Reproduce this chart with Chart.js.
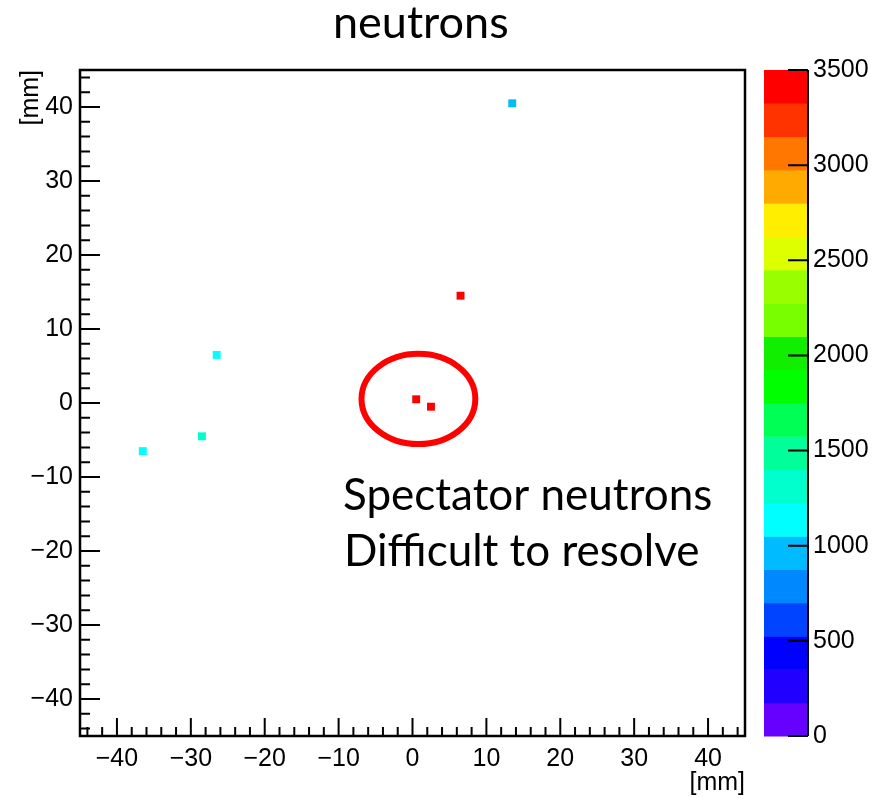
<!DOCTYPE html>
<html>
<head>
<meta charset="utf-8">
<script src="https://cdn.jsdelivr.net/npm/chart.js@4.4.1/dist/chart.umd.min.js"></script>
<style>
    html, body { margin: 0; padding: 0; background: #fff; }
    #wrap { width: 890px; height: 798px; position: relative; }
</style>
</head>
<body>
<div id="wrap"><canvas id="neutron-map"></canvas></div>
<script>
// hit bins (bin centres in mm) and their counts
var hitX = [13.5, 6.5, 0.5, 2.5, -26.5, -28.5, -36.5];
var hitY = [40.5, 14.5, 0.5, -0.5, 6.5, -4.5, -6.5];
var hitCounts = [1000, 3400, 3400, 3400, 1100, 1300, 1100];

// axis labels
var axisTicks = [-40, -30, -20, -10, 0, 10, 20, 30, 40];
var zTicks = [0, 500, 1000, 1500, 2000, 2500, 3000, 3500];
var zMax = 3500;

// rainbow palette, 20 levels from low to high
var palette = [
    "#6600ff", "#2200ff", "#0000ff", "#0044ff", "#0088ff",
    "#00bbff", "#00ffff", "#00ffcc", "#00ff99", "#00ff55",
    "#00ff00", "#11ee00", "#77ff00", "#99ff00", "#ddff00",
    "#ffee00", "#ffaa00", "#ff7700", "#ff3300", "#ff0000"
];

var tickFont = { family: "'Liberation Sans', Arial, sans-serif", size: 25 };
var textFont = "Lato, 'Open Sans', sans-serif";

function levelColor(v) {
    var k = Math.floor(v / (zMax / palette.length));
    return palette[Math.max(0, Math.min(palette.length - 1, k))];
}

function minusLabel(v) {
    return v < 0 ? "\u2212" + Math.abs(v) : String(v);
}

// fixed scale sizes, no automatic padding for the end labels
function fixSize(w, h) {
    return function (scale) {
        if (w) scale.width = w;
        if (h) scale.height = h;
        scale.paddingTop = 0;
        scale.paddingBottom = 0;
        scale.paddingLeft = 0;
        scale.paddingRight = 0;
    };
}

var points = hitX.map(function (x, i) {
    return { x: x, y: hitY[i] };
});

// draws the ROOT-like frame, inward ticks, colour bar and the notes
var rootFrame = {
    id: "rootFrame",
    afterDraw: function (chart) {
        var c = chart.ctx;
        var a = chart.chartArea;
        var xs = chart.scales.x, ys = chart.scales.y, zs = chart.scales.z;
        c.save();

        // colour bar
        var barL = a.right + 19, barW = 44;
        var step = zMax / palette.length;
        for (var k = 0; k < palette.length; k++) {
            var top = zs.getPixelForValue((k + 1) * step);
            var bot = zs.getPixelForValue(k * step);
            c.fillStyle = palette[k];
            c.fillRect(barL, top, barW, bot - top + 0.5);
        }
        c.strokeStyle = "#000";
        c.lineWidth = 2;
        c.beginPath();
        c.moveTo(barL + barW, zs.top);
        c.lineTo(barL + barW, zs.bottom);
        zTicks.forEach(function (v) {
            var p = zs.getPixelForValue(v);
            c.moveTo(barL + barW - 20, p);
            c.lineTo(barL + barW, p);
        });
        c.stroke();

        // frame
        c.lineWidth = 2.5;
        c.strokeRect(a.left, a.top, a.right - a.left, a.bottom - a.top);

        // inward ticks, minor every 2 mm
        c.lineWidth = 2;
        c.beginPath();
        for (var v = -44; v <= 44; v += 2) {
            var major = v % 10 === 0;
            var px = xs.getPixelForValue(v);
            c.moveTo(px, a.bottom);
            c.lineTo(px, a.bottom - (major ? 18 : 9));
            var py = ys.getPixelForValue(v);
            c.moveTo(a.left, py);
            c.lineTo(a.left + (major ? 20 : 10), py);
        }
        c.stroke();

        // axis units
        c.fillStyle = "#000";
        c.font = "25px " + tickFont.family;
        c.textAlign = "right";
        c.textBaseline = "alphabetic";
        c.fillText("[mm]", a.right, 790);
        c.save();
        c.translate(38, a.top);
        c.rotate(-Math.PI / 2);
        c.fillText("[mm]", 0, 0);
        c.restore();

        // circle round the spectator neutrons
        var cx = xs.getPixelForValue(0.8), cy = ys.getPixelForValue(0.55);
        var rx = xs.getPixelForValue(0.8 + 7.7) - cx;
        var ry = cy - ys.getPixelForValue(0.55 + 6.1);
        c.strokeStyle = "#ff0000";
        c.lineWidth = 6;
        c.beginPath();
        c.ellipse(cx, cy, rx, ry, 0, 0, Math.PI * 2);
        c.stroke();

        // title and note
        c.fillStyle = "#000";
        c.textAlign = "left";
        c.font = "45px " + textFont;
        c.fillText("neutrons", 333, 38);
        c.font = "44px " + textFont;
        c.fillText("Spectator neutrons", 343, 510);
        c.fillText("Difficult to resolve", 344, 566);

        c.restore();
    }
};

var ctx = document.getElementById("neutron-map").getContext("2d");

new Chart(ctx, {
    type: "scatter",
    data: {
        datasets: [
            {
                label: "neutrons",
                data: points,
                pointStyle: "rect",
                pointRadius: 5.6,
                pointHoverRadius: 5.6,
                borderWidth: 0,
                backgroundColor: hitCounts.map(levelColor),
                borderColor: hitCounts.map(levelColor),
            },
        ],
    },
    options: {
        responsive: true,
        maintainAspectRatio: false,
        animation: false,
        layout: {
            autoPadding: false,
            padding: { top: 70, left: 0, right: 0, bottom: 0 },
        },
        plugins: {
            legend: { display: false },
            tooltip: { enabled: false },
            title: { display: false },
        },
        scales: {
            x: {
                type: "linear",
                min: -45,
                max: 45,
                grid: { display: false, drawTicks: false },
                border: { display: false },
                afterBuildTicks: function (scale) {
                    scale.ticks = axisTicks.map(function (v) { return { value: v }; });
                },
                afterFit: fixSize(0, 62),
                ticks: {
                    padding: 8,
                    color: "#000",
                    font: tickFont,
                    maxRotation: 0,
                    callback: function (v) { return minusLabel(v); },
                },
            },
            y: {
                type: "linear",
                min: -45,
                max: 45,
                grid: { display: false, drawTicks: false },
                border: { display: false },
                afterBuildTicks: function (scale) {
                    scale.ticks = axisTicks.map(function (v) { return { value: v }; });
                },
                afterFit: fixSize(80, 0),
                ticks: {
                    padding: 7,
                    color: "#000",
                    font: tickFont,
                    callback: function (v) { return minusLabel(v); },
                },
            },
            z: {
                type: "linear",
                position: "right",
                min: 0,
                max: zMax,
                grid: { display: false, drawTicks: false },
                border: { display: false },
                afterBuildTicks: function (scale) {
                    scale.ticks = zTicks.map(function (v) { return { value: v }; });
                },
                afterFit: fixSize(145, 0),
                ticks: {
                    padding: 68,
                    color: "#000",
                    font: tickFont,
                    callback: function (v) { return String(v); },
                },
            },
        },
    },
    plugins: [rootFrame],
});
</script>
</body>
</html>
